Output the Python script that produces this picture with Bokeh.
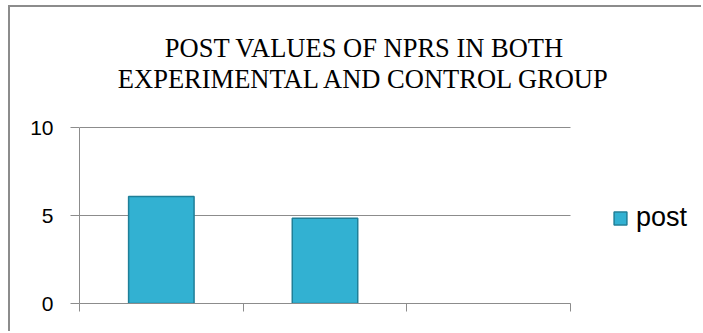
from bokeh.plotting import figure
from bokeh.models import (ColumnDataSource, FixedTicker, Label, Legend, LegendItem,
                          Range1d)
from bokeh.embed import file_html
from bokeh.resources import INLINE

# ---- data ----
title_lines = ["POST VALUES OF NPRS IN BOTH", "EXPERIMENTAL AND CONTROL GROUP"]
groups = ["", "", ""]
post = [6.08, 4.85, float("nan")]
series_name = "post"
y_ticks = [0, 5, 10]
y_max = 10

n = len(groups)
x_pos = [i + 0.5 for i in range(n)]
src = ColumnDataSource(dict(x=x_pos, top=post))

# frame is extended right/up so the legend and title (drawn inside it) are not clipped;
# axes and grid lines are bounded to the real chart area
px_per_cat = 491 / n          # plot area 491 px wide
px_per_unit = 176 / y_max     # plot area 176 px tall
frame_w, frame_h = 621, 286

p = figure(width=693, height=326, output_backend="svg", toolbar_location=None,
           x_range=Range1d(0, frame_w / px_per_cat),
           y_range=Range1d(0, frame_h / px_per_unit),
           min_border_left=69, min_border_right=3, min_border_top=10,
           min_border_bottom=30)
p.styles = {"margin-left": "8px", "margin-top": "5px",
            "border-top": "2px solid #8c8c8c", "border-left": "2px solid #8c8c8c"}
p.outline_line_color = None
p.background_fill_color = "white"
p.border_fill_color = "white"

gray = "#8c8c8c"
p.xgrid.grid_line_color = None
p.ygrid.grid_line_color = None
p.segment(x0=[0] * len(y_ticks), x1=[n] * len(y_ticks), y0=y_ticks, y1=y_ticks,
          line_color=gray, line_width=1)

bars = p.vbar(x="x", top="top", width=0.4, bottom=0, source=src,
              fill_color="#32b1d2", line_color="#1f7f98", line_width=1.5)

# y axis
p.yaxis.bounds = (0, y_max)
p.yaxis.ticker = FixedTicker(ticks=y_ticks)
p.yaxis.minor_tick_line_color = None
p.yaxis.axis_line_color = gray
p.yaxis.major_tick_line_color = gray
p.yaxis.major_tick_out = 9
p.yaxis.major_tick_in = 0
p.yaxis.major_label_standoff = 17
p.yaxis.major_label_text_font = "Liberation Sans"
p.yaxis.major_label_text_font_size = "21px"
p.yaxis.major_label_text_color = "black"
# x axis
p.xaxis.bounds = (0, n)
p.xaxis.ticker = FixedTicker(ticks=list(range(n + 1)))
p.xaxis.major_label_overrides = {i: g for i, g in enumerate(groups + [""])}
p.xaxis.minor_tick_line_color = None
p.xaxis.axis_line_color = gray
p.xaxis.major_tick_line_color = gray
p.xaxis.major_tick_out = 8
p.xaxis.major_tick_in = 0

# title, two centred lines
for i, line in enumerate(title_lines):
    p.add_layout(Label(x=285, y=256 - 31.5 * i, x_units="screen", y_units="screen",
                       text=line, text_align="center", text_baseline="alphabetic",
                       text_font="Liberation Serif", text_font_size="26.5px",
                       text_color="black"))

legend = Legend(items=[LegendItem(label=series_name, renderers=[bars])],
                location=(533, 70), padding=0, spacing=0, margin=0,
                glyph_width=16, glyph_height=16, label_standoff=8,
                label_text_font="Liberation Sans", label_text_font_size="27px",
                label_text_color="black",
                border_line_color=None, background_fill_alpha=0)
p.add_layout(legend)

open("out.html", "w").write(file_html(p, INLINE))
